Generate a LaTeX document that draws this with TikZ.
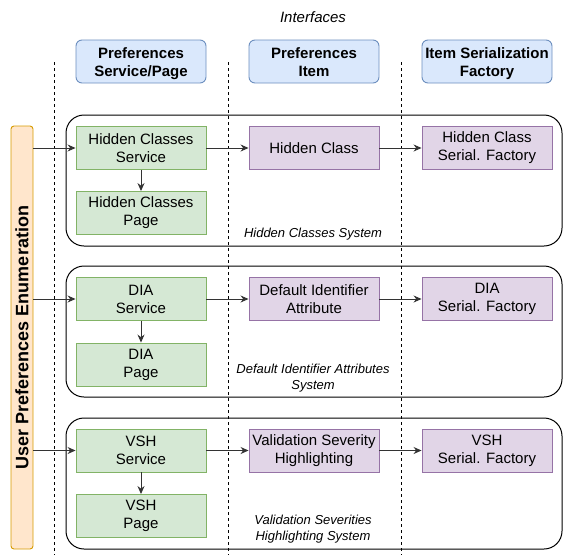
\documentclass[tikz,border=0pt]{standalone}
\usepackage{fontspec}
\setmainfont{Liberation Sans}
\usetikzlibrary{arrows.meta}
\definecolor{bluefill}{HTML}{DAE8FC}
\definecolor{bluedraw}{HTML}{6C8EBF}
\definecolor{greenfill}{HTML}{D5E8D4}
\definecolor{greendraw}{HTML}{82B366}
\definecolor{purplefill}{HTML}{E1D5E7}
\definecolor{purpledraw}{HTML}{9673A6}
\definecolor{orangefill}{HTML}{FFE6CC}
\definecolor{orangedraw}{HTML}{D79B00}
\definecolor{arrowcol}{HTML}{333333}
\tikzset{
  boxbase/.style={minimum width=130pt, minimum height=43pt, inner sep=0pt, align=center, line width=0.9pt, font=\fontsize{15}{18}\selectfont},
  header/.style={boxbase, draw=bluedraw, fill=bluefill, rounded corners=6pt, font=\fontsize{15}{18}\selectfont\bfseries},
  headertext/.style={font=\fontsize{15}{18}\selectfont\bfseries, align=center, inner sep=0pt, text depth=4pt},
  greenbox/.style={boxbase, draw=greendraw, fill=greenfill},
  purplebox/.style={boxbase, draw=purpledraw, fill=purplefill},
  container/.style={draw=black, line width=1pt, rounded corners=18pt},
  caption/.style={font=\fontsize{13}{16}\selectfont\itshape, align=center, inner sep=0pt},
  divider/.style={draw=black, line width=0.8pt, dash pattern=on 3pt off 3pt},
  conn/.style={draw=arrowcol, line width=1pt, -{Stealth[length=8pt,width=7pt]}}
}
\begin{document}
\begin{tikzpicture}[x=1pt,y=-1pt]
\useasboundingbox (0,0) rectangle (568,555);
% dividers
\coordinate (d1t) at (54,62); \coordinate (d1b) at (54,555);
\coordinate (d2t) at (228,62); \coordinate (d2b) at (228,555);
\coordinate (d3t) at (401,62); \coordinate (d3b) at (401,555);
% containers
\draw[container] (66,115) rectangle (562,246);
\draw[container] (66,266) rectangle (562,397);
\draw[container] (66,418) rectangle (562,549);
\draw[divider] (d1t) -- (d1b);
\draw[divider] (d2t) -- (d2b);
\draw[divider] (d3t) -- (d3b);
% title
\node[caption, font=\fontsize{15}{18}\selectfont\itshape] (title) at (313,17) {Interfaces};
% headers
\node[header] (h1) at (141,61.5) {};
\node[header] (h2) at (314,61.5) {};
\node[header] (h3) at (487,61.5) {};
\node[headertext] (h1t) at ([yshift=-2.5pt]h1.center) {Preferences\\Service/Page};
\node[headertext] (h2t) at ([yshift=-2.5pt]h2.center) {Preferences\\Item};
\node[headertext] (h3t) at ([yshift=-2.5pt]h3.center) {Item Serialization\\Factory};
% orange
\node[draw=orangedraw, fill=orangefill, line width=0.9pt, rounded corners=3pt, minimum width=423pt, minimum height=22pt, inner sep=0pt, rotate=90, font=\fontsize{18}{22}\selectfont\bfseries] (enum) at (22,337.5) {User Preferences Enumeration};
% row 1
\node[greenbox] (s1) at (141,148) {Hidden Classes\\Service};
\node[greenbox] (p1) at (141,213) {Hidden Classes\\Page};
\node[purplebox] (i1) at (314,148) {Hidden Class};
\node[purplebox] (f1) at (487,148) {Hidden Class\\Serial. Factory};
\node[caption] (c1) at (313,234.5) {Hidden Classes System};
% row 2
\node[greenbox] (s2) at (141,299) {DIA\\Service};
\node[greenbox] (p2) at (141,364.5) {DIA\\Page};
\node[purplebox] (i2) at (314,299) {Default Identifier\\Attribute};
\node[purplebox] (f2) at (487,299) {DIA\\Serial. Factory};
\node[caption] (c2) at (313,378) {Default Identifier Attributes\\System};
% row 3
\node[greenbox] (s3) at (141,450.5) {VSH\\Service};
\node[greenbox] (p3) at (141,516) {VSH\\Page};
\node[purplebox] (i3) at (314,450.5) {Validation Severity\\Highlighting};
\node[purplebox] (f3) at (487,450.5) {VSH\\Serial. Factory};
\node[caption] (c3) at (313,529) {Validation Severities\\Highlighting System};
% connectors
\draw[conn] (enum.south |- s1) -- (s1);
\draw[conn] (enum.south |- s2) -- (s2);
\draw[conn] (enum.south |- s3) -- (s3);
\draw[conn] (s1) -- (p1);
\draw[conn] (s2) -- (p2);
\draw[conn] (s3) -- (p3);
\draw[conn] (s1) -- (i1);
\draw[conn] (s2) -- (i2);
\draw[conn] (s3) -- (i3);
\draw[conn] (i1) -- (f1);
\draw[conn] (i2) -- (f2);
\draw[conn] (i3) -- (f3);
\end{tikzpicture}
\end{document}
